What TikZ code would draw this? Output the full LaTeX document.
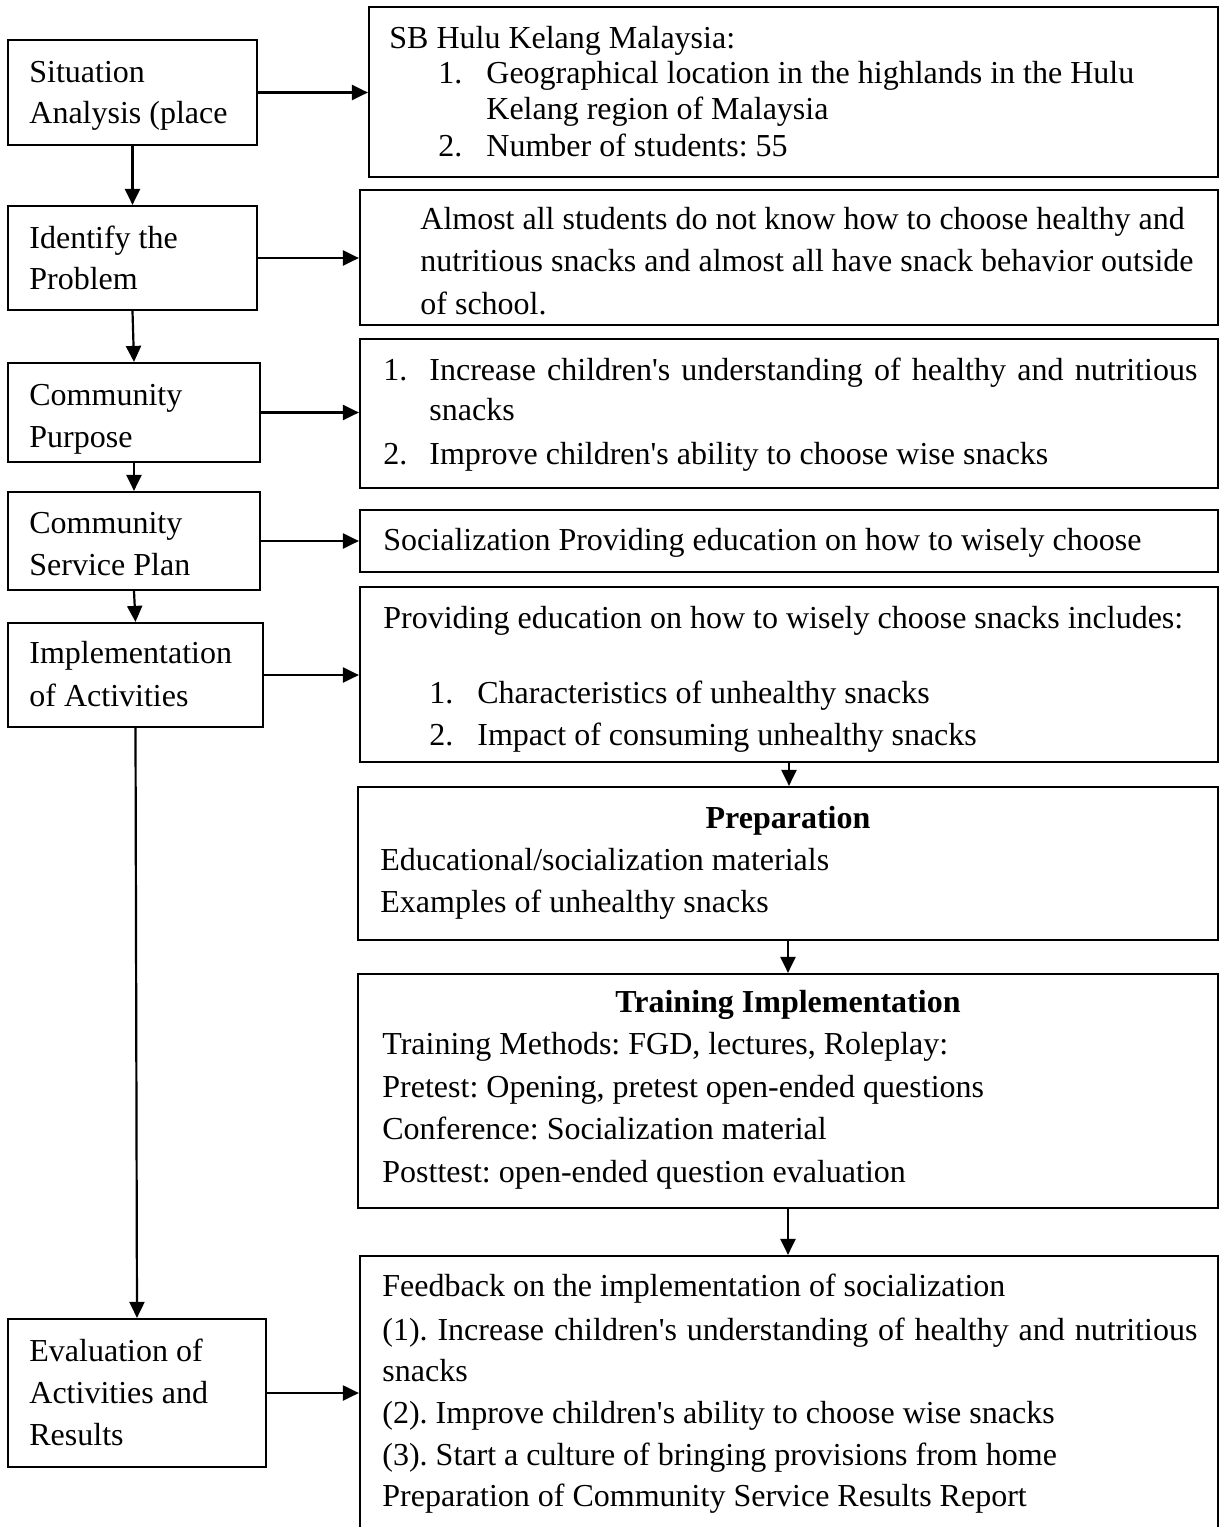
\documentclass[tikz,border=0pt]{standalone}
\usepackage{fontspec}
\setmainfont{Liberation Serif}
\usetikzlibrary{arrows.meta}
\newcommand\apo{\textquotesingle}
\frenchspacing
\begin{document}
\begin{tikzpicture}[x=0.5pt,y=-0.5pt,
  box/.style={draw, line width=1.1pt, inner sep=0pt, anchor=center},
  txt/.style={anchor=base west, inner sep=0pt, font=\fontsize{16}{19}\selectfont},
  ttl/.style={anchor=base, inner sep=0pt, font=\fontsize{16}{19}\selectfont\bfseries},
  arr/.style={line width=1.1pt, -{Triangle[length=8pt,width=7.5pt]}}]
\useasboundingbox (0,0) rectangle (1220,1527);
\clip (0,0) rectangle (1220,1527);
% left boxes
\node[box, minimum width=124.5pt, minimum height=52.5pt] (s1) at (132.5,92.5) {};
\node[box, minimum width=124.5pt, minimum height=52pt] (s2) at (132.5,258) {};
\node[box, minimum width=126pt, minimum height=49.5pt] (s3) at (134,412.5) {};
\node[box, minimum width=126pt, minimum height=49pt] (s4) at (134,541) {};
\node[box, minimum width=127.5pt, minimum height=52pt] (s5) at (135.5,675) {};
\node[box, minimum width=129pt, minimum height=74pt] (s6) at (137,1393) {};
% right boxes
\node[box, minimum width=424.5pt, minimum height=85pt] (r1) at (793.5,92) {};
\node[box, minimum width=429pt, minimum height=67.5pt] (r2) at (789,257.5) {};
\node[box, minimum width=429pt, minimum height=74.5pt] (r3) at (789,413.5) {};
\node[box, minimum width=429pt, minimum height=31pt] (r4) at (789,541) {};
\node[box, minimum width=429pt, minimum height=87.5pt] (r5) at (789,674.5) {};
\node[box, minimum width=430pt, minimum height=76.5pt] (r6) at (788,863.5) {};
\node[box, minimum width=430pt, minimum height=117pt] (r7) at (788,1091) {};
\node[box, minimum width=429pt, minimum height=144.5pt] (r8) at (789,1400.5) {};
% left texts
\node[txt] (a1) at (29,82) {Situation};
\node[txt] (a2) at (29,123) {Analysis (place};
\node[txt] (b1) at (29,248) {Identify the};
\node[txt] (b2) at (29,289) {Problem};
\node[txt] (c1) at (29,405) {Community};
\node[txt] (c2) at (29,447) {Purpose};
\node[txt] (d1) at (29,533) {Community};
\node[txt] (d2) at (29,575) {Service Plan};
\node[txt] (e1) at (29,663) {Implementation};
\node[txt] (e2) at (29,706) {of Activities};
\node[txt] (f1) at (29,1361) {Evaluation of};
\node[txt] (f2) at (29,1403) {Activities and};
\node[txt] (f3) at (29,1445) {Results};
% r1
\node[txt] (g1) at (389,48) {SB Hulu Kelang Malaysia:};
\node[txt] (g2) at (438,83) {1.};
\node[txt] (g3) at (486,83) {Geographical location in the highlands in the Hulu};
\node[txt] (g4) at (486,119) {Kelang region of Malaysia};
\node[txt] (g5) at (438,156) {2.};
\node[txt] (g6) at (486,156) {Number of students: 55};
% r2
\node[txt] (h1) at (420,229) {Almost all students do not know how to choose healthy and};
\node[txt] (h2) at (420,271) {nutritious snacks and almost all have snack behavior outside};
\node[txt] (h3) at (420,314) {of school.};
% r3
\node[txt] (i1) at (383,380) {1.};
\node[txt] (i2) at (429,380) {\makebox[384pt][s]{Increase children\apo s understanding of healthy and nutritious}};
\node[txt] (i3) at (429,420) {snacks};
\node[txt] (i4) at (383,464) {2.};
\node[txt] (i5) at (429,464) {Improve children\apo s ability to choose wise snacks};
% r4
\node[txt] (j1) at (383,550) {Socialization Providing education on how to wisely choose};
% r5
\node[txt] (k1) at (383,628) {Providing education on how to wisely choose snacks includes:};
\node[txt] (k2) at (429,703) {1.};
\node[txt] (k3) at (477,703) {Characteristics of unhealthy snacks};
\node[txt] (k4) at (429,745) {2.};
\node[txt] (k5) at (477,745) {Impact of consuming unhealthy snacks};
% r6
\node[ttl] (l1) at (788,828) {Preparation};
\node[txt] (l2) at (380,870) {Educational/socialization materials};
\node[txt] (l3) at (380,912) {Examples of unhealthy snacks};
% r7
\node[ttl] (m1) at (788,1012) {Training Implementation};
\node[txt] (m2) at (382,1054) {Training Methods: FGD, lectures, Roleplay:};
\node[txt] (m3) at (382,1097) {Pretest: Opening, pretest open-ended questions};
\node[txt] (m4) at (382,1139) {Conference: Socialization material};
\node[txt] (m5) at (382,1182) {Posttest: open-ended question evaluation};
% r8
\node[txt] (n1) at (382,1296) {Feedback on the implementation of socialization};
\node[txt] (n2) at (382,1340) {\makebox[407.5pt][s]{(1). Increase children\apo s understanding of healthy and nutritious}};
\node[txt] (n3) at (382,1381) {snacks};
\node[txt] (n4) at (382,1423) {(2). Improve children\apo s ability to choose wise snacks};
\node[txt] (n5) at (382,1465) {(3). Start a culture of bringing provisions from home};
\node[txt] (n6) at (382,1506) {Preparation of Community Service Results Report};
% connectors
\draw[arr] (s1.east) -- (s1.east -| r1.west);
\draw[arr] (s2.east) -- (s2.east -| r2.west);
\draw[arr] (s3.east) -- (s3.east -| r3.west);
\draw[arr] (s4.east) -- (s4.east -| r4.west);
\draw[arr] (s5.east) -- (s5.east -| r5.west);
\draw[arr] (s6.east) -- (s6.east -| r8.west);
\draw[arr] (s1.south) -- (s2.north);
\draw[arr] (s2.south) -- (s3.north);
\draw[arr] (s3.south) -- (s4.north);
\draw[arr] (s4.south) -- (s5.north);
\draw[arr] (s5.south) -- (s6.north);
\draw[arr] (r5.south) -- (r5.south |- r6.north);
\draw[arr] (r6.south) -- (r7.north);
\draw[arr] (r7.south) -- (r7.south |- r8.north);
\end{tikzpicture}
\end{document}
